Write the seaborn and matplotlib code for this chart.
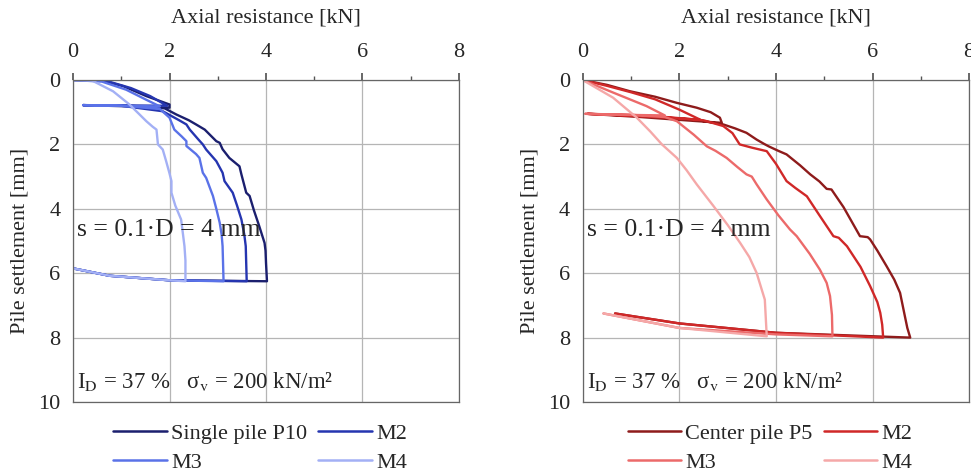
import matplotlib
matplotlib.use("Agg")
import matplotlib.pyplot as plt
import seaborn as sns
import pandas as pd
from matplotlib.ticker import MultipleLocator

# --- data (axial resistance kN, settlement mm) ---
# left panel: single pile P10 and group piles M2-M4
p10_x = [0, 0.62, 1.04, 1.52, 2.0, 2.0, 1.2, 0.21, 1.2, 1.9, 2.14, 2.4, 2.55, 2.73, 2.97, 3.04, 3.1, 3.24, 3.45, 3.49,
         3.59, 3.66, 3.75, 3.86, 3.97, 3.99, 4.0, 4.02, 2.0, 0.76, 0.0]
p10_y = [0, 0.02, 0.19, 0.5, 0.76, 0.86, 0.82, 0.78, 0.8, 0.88, 1.07, 1.25, 1.38, 1.54, 1.9, 1.95, 2.15, 2.42, 2.68, 2.93,
         3.5, 3.6, 4.05, 4.54, 5.06, 5.3, 5.68, 6.25, 6.22, 6.08, 5.85]
m2l_x = [0, 0.7, 1.2, 1.6, 1.95, 1.1, 0.21, 1.0, 1.86, 2.2, 2.35, 2.42, 2.6, 2.69, 2.76, 2.97, 3.1, 3.14, 3.31, 3.4,
         3.49, 3.55, 3.58, 3.6, 2.0, 0.76, 0.0]
m2l_y = [0, 0.03, 0.25, 0.5, 0.8, 0.79, 0.78, 0.8, 0.97, 1.25, 1.38, 1.54, 1.85, 2.0, 2.16, 2.52, 2.88, 3.14, 3.5, 3.9,
         4.33, 4.8, 5.16, 6.25, 6.22, 6.08, 5.85]
m3l_x = [0, 0.6, 1.1, 1.5, 1.8, 1.0, 0.21, 1.0, 1.8, 2.0, 2.1, 2.25, 2.35, 2.35, 2.55, 2.62, 2.69, 2.76, 2.9, 2.97,
         3.04, 3.08, 3.1, 3.12, 2.0, 0.76, 0.0]
m3l_y = [0, 0.05, 0.3, 0.6, 0.82, 0.8, 0.78, 0.8, 0.9, 1.17, 1.54, 1.75, 1.9, 2.05, 2.3, 2.42, 2.88, 3.04, 3.6, 4.0,
         4.43, 4.8, 5.16, 6.25, 6.22, 6.08, 5.85]
m4l_x = [0, 0.4, 0.83, 1.17, 1.52, 1.65, 1.73, 1.76, 1.86, 1.93, 2.0, 2.04, 2.04, 2.12, 2.24, 2.28, 2.31, 2.33,
         2.33, 2.0, 0.76, 0.0]
m4l_y = [0, 0.02, 0.35, 0.76, 1.28, 1.45, 1.54, 2.0, 2.16, 2.52, 2.9, 3.14, 3.5, 3.9, 4.33, 4.8, 5.16, 5.6,
         6.25, 6.22, 6.08, 5.85]

# right panel: center pile P5 and group piles M2-M4
p5_x = [0, 0.5, 0.98, 1.5, 1.95, 2.36, 2.65, 2.84, 2.88, 2.3, 1.2, 0.1, 1.2, 2.4, 2.91, 3.15, 3.39, 3.6, 3.75, 3.85,
        4.05, 4.22, 4.5, 4.71, 4.9, 5.05, 5.15, 5.4, 5.74, 5.9, 5.95, 6.1, 6.29, 6.45, 6.57, 6.67, 6.72, 6.78,
        4.0, 2.0, 0.67]
p5_y = [0, 0.15, 0.35, 0.52, 0.71, 0.86, 1.0, 1.17, 1.33, 1.27, 1.15, 1.05, 1.12, 1.25, 1.38, 1.5, 1.64, 1.85, 1.98,
        2.06, 2.2, 2.31, 2.65, 2.93, 3.15, 3.38, 3.4, 3.95, 4.85, 4.88, 4.95, 5.3, 5.78, 6.2, 6.61, 7.34, 7.7, 8.0,
        7.85, 7.56, 7.25]
m2r_x = [0, 0.5, 1.0, 1.5, 2.0, 2.43, 1.5, 0.1, 1.5, 2.5, 2.91, 3.1, 3.25, 3.5, 3.81, 4.0, 4.22, 4.4, 4.64, 4.9,
         5.19, 5.3, 5.47, 5.75, 5.95, 6.1, 6.16, 6.2, 6.22, 4.0, 2.0, 0.67]
m2r_y = [0, 0.18, 0.38, 0.6, 0.92, 1.23, 1.15, 1.05, 1.12, 1.25, 1.43, 1.65, 2.0, 2.1, 2.21, 2.6, 3.14, 3.35, 3.61, 4.2,
         4.85, 4.9, 5.16, 5.8, 6.4, 6.9, 7.23, 7.6, 8.0, 7.85, 7.56, 7.25]
m3r_x = [0, 0.63, 1.32, 1.7, 0.8, 0.05, 1.0, 1.7, 1.95, 2.3, 2.57, 2.75, 2.98, 3.2, 3.39, 3.5, 3.6, 3.81, 4.05, 4.29,
         4.43, 4.7, 4.91, 5.05, 5.12, 5.16, 5.17, 4.0, 2.0, 0.43]
m3r_y = [0, 0.39, 0.81, 1.1, 1.08, 1.05, 1.08, 1.15, 1.28, 1.7, 2.06, 2.2, 2.42, 2.7, 2.93, 3.0, 3.24, 3.71, 4.2, 4.64,
         4.85, 5.4, 5.89, 6.3, 6.71, 7.3, 7.96, 7.9, 7.7, 7.25]
m4r_x = [0, 0.63, 1.12, 1.4, 1.64, 1.95, 2.15, 2.36, 2.7, 3.0, 3.26, 3.45, 3.6, 3.77, 3.81, 2.0, 0.43]
m4r_y = [0, 0.55, 1.17, 1.6, 2.0, 2.42, 2.8, 3.24, 3.9, 4.5, 5.06, 5.5, 5.99, 6.82, 7.96, 7.7, 7.25]

left_names = ["Single pile P10", "M2", "M3", "M4"]
right_names = ["Center pile P5", "M2", "M3", "M4"]
left_colors = ["#1b1f6e", "#2535b0", "#5a72e8", "#a3b0f5"]
right_colors = ["#8e1b1b", "#d02828", "#ec6a6a", "#f5a8a8"]


def make_df(names, xs, ys):
    rows = []
    for n, x, y in zip(names, xs, ys):
        for i, (a, b) in enumerate(zip(x, y)):
            rows.append({"series": n, "order": i, "force": a, "settlement": b})
    return pd.DataFrame(rows)


left_df = make_df(left_names, [p10_x, m2l_x, m3l_x, m4l_x], [p10_y, m2l_y, m3l_y, m4l_y])
right_df = make_df(right_names, [p5_x, m2r_x, m3r_x, m4r_x], [p5_y, m2r_y, m3r_y, m4r_y])

sns.set_theme(style="white")
plt.rcParams["font.family"] = ["Liberation Serif", "DejaVu Serif"]
plt.rcParams["mathtext.fontset"] = "stix"
fs = 16

fig = plt.figure(figsize=(9.71, 4.74), dpi=100)
ax1 = fig.add_axes([0.0752, 0.1519, 0.3975, 0.6793])
ax2 = fig.add_axes([0.6001, 0.1519, 0.3980, 0.6793])

for ax, df, names, colors in [(ax1, left_df, left_names, left_colors),
                              (ax2, right_df, right_names, right_colors)]:
    sns.lineplot(data=df, x="force", y="settlement", hue="series", hue_order=names,
                 palette=colors, sort=False, estimator=None, units="series",
                 linewidth=1.7, ax=ax, legend=False)
    ax.set_xlim(0, 8)
    ax.set_ylim(10, 0)
    ax.xaxis.tick_top()
    ax.xaxis.set_label_position("top")
    ax.xaxis.set_major_locator(MultipleLocator(2))
    ax.xaxis.set_minor_locator(MultipleLocator(1))
    ax.yaxis.set_major_locator(MultipleLocator(2))
    ax.yaxis.set_minor_locator(MultipleLocator(1))
    ax.tick_params(which="both", direction="out", color="#555555", labelsize=fs)
    ax.tick_params(axis="x", pad=8)
    ax.tick_params(axis="y", pad=4)
    ax.tick_params(which="major", length=5)
    ax.tick_params(which="minor", length=3)
    ax.grid(True, which="major", color="#b5b5b5", linewidth=0.9)
    for s in ax.spines.values():
        s.set_color("#666666")
        s.set_linewidth(0.9)
    ax.set_xlabel("Axial resistance [kN]", fontsize=fs, labelpad=15)
    ax.set_ylabel("Pile settlement [mm]", fontsize=fs, labelpad=6)
    ax.text(0.08, 4.65, "s = 0.1·D = 4 mm", fontsize=18.5, va="center", ha="left")
    ax.text(0.08, 9.35, r"I$_\mathrm{D}$ = 37 %   σ$_\mathrm{v}$ = 200 kN/m²", fontsize=16.5,
            va="center", ha="left")

    handles = [plt.Line2D([], [], color=c, linewidth=1.8) for c in colors]
    order = [0, 2, 1, 3]
    ax.legend([handles[i] for i in order], [names[i] for i in order], ncol=2, frameon=False,
              loc="upper center", bbox_to_anchor=(0.485, -0.005), fontsize=fs, handlelength=2.4,
              handletextpad=0.2, columnspacing=0.5, labelspacing=0.38)

fig.savefig("out.png", dpi=100)
